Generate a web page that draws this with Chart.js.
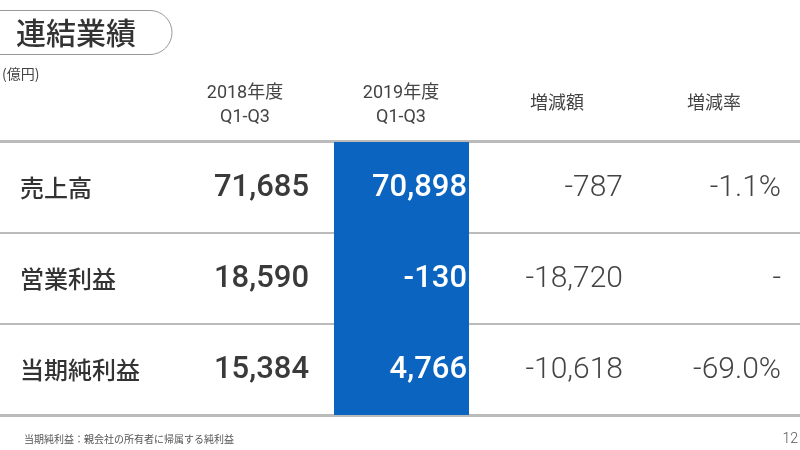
<!DOCTYPE html>
<html><head><meta charset="utf-8">
<script src="https://cdn.jsdelivr.net/npm/chart.js@4"></script>
<style>html,body{margin:0;padding:0;background:#fff}canvas{display:block}</style>
</head><body><canvas id="c" width="800" height="450"></canvas>
<script>
const rows = ["売上高","営業利益","当期純利益"];
const headers = [["2018年度","Q1-Q3"],["2019年度","Q1-Q3"],["増減額"],["増減率"]];
const col2018 = ["71,685","18,590","15,384"];
const col2019 = ["70,898","-130","4,766"];
const colDiff = ["-787","-18,720","-10,618"];
const colRate = ["-1.1%","-","-69.0%"];
const highlight = [[334,469],[334,469],[334,469]];

const JP = '"Noto Sans CJK JP", sans-serif';
const NUM = 'Roboto, "Noto Sans CJK JP", sans-serif';

const tablePlugin = {
  id:'table',
  beforeDatasetsDraw(chart){
    const ctx=chart.ctx, xs=chart.scales.x, ys=chart.scales.y, ca=chart.chartArea;
    ctx.save();
    // title box
    ctx.strokeStyle='#999'; ctx.lineWidth=1;
    ctx.beginPath(); ctx.moveTo(-2,10.5); ctx.lineTo(150,10.5);
    ctx.arc(150,32.5,22,-Math.PI/2,Math.PI/2); ctx.lineTo(-2,54.5); ctx.stroke();
    ctx.fillStyle='#333'; ctx.font='500 30px '+JP; ctx.textBaseline='middle'; ctx.textAlign='left';
    ctx.fillText('連結業績',16,33);
    ctx.font='14px '+JP; ctx.fillStyle='#444'; ctx.fillText('(億円)',2,74);
    // headers
    const hx=[xs.getPixelForValue(245),xs.getPixelForValue(401),xs.getPixelForValue(557),xs.getPixelForValue(714)];
    ctx.font='18px '+NUM; ctx.textAlign='center'; ctx.fillStyle='#444';
    headers.forEach((h,i)=>{
      if(h.length===2){ctx.fillText(h[0],hx[i],93);ctx.fillText(h[1],hx[i],117);}
      else ctx.fillText(h[0],hx[i],104);
    });
    // lines
    ctx.fillStyle='#bbb';
    ctx.fillRect(0,ca.top-2,800,3);
    const step=(ca.bottom-ca.top)/rows.length;
    for(let i=1;i<=rows.length;i++){
      const y=ca.top+step*i;
      ctx.fillRect(0,Math.round(y)-1,800,i===rows.length?3:2);
    }
    ctx.restore();
  },
  afterDatasetsDraw(chart){
    const ctx=chart.ctx, xs=chart.scales.x, ys=chart.scales.y;
    ctx.save(); ctx.textBaseline='middle';
    rows.forEach((r,i)=>{
      const y=ys.getPixelForValue(i);
      ctx.textAlign='left'; ctx.fillStyle='#333'; ctx.font='500 24px '+JP;
      ctx.fillText(r,20,y);
      ctx.textAlign='right';
      ctx.font='500 31px '+NUM; ctx.fillStyle='#3a3a3a';
      ctx.fillText(col2018[i],xs.getPixelForValue(309),y+1);
      ctx.fillStyle='#fff';
      ctx.fillText(col2019[i],xs.getPixelForValue(467),y+1);
      ctx.font='300 30px '+NUM; ctx.fillStyle='#444';
      ctx.fillText(colDiff[i],xs.getPixelForValue(623),y+1);
      ctx.fillText(colRate[i],xs.getPixelForValue(781),y+1);
    });
    ctx.textAlign='left'; ctx.font='10px '+JP; ctx.fillStyle='#555';
    ctx.fillText('当期純利益：親会社の所有者に帰属する純利益',24,439);
    ctx.textAlign='right'; ctx.font='300 14px '+NUM; ctx.fillStyle='#555';
    ctx.fillText('12',798,439);
    ctx.restore();
  }
};

new Chart(document.getElementById('c'),{
  type:'bar',
  data:{labels:rows,datasets:[{data:highlight,backgroundColor:'#0a64c0',borderWidth:0,
    categoryPercentage:1,barPercentage:1.003}]},
  options:{
    indexAxis:'y',responsive:false,animation:false,
    layout:{padding:{top:142,bottom:35,left:0,right:0}},
    plugins:{legend:{display:false},tooltip:{enabled:false}},
    scales:{x:{type:'linear',min:0,max:800,display:false},
            y:{type:'category',display:false,offset:true,grid:{display:false}}}
  },
  plugins:[tablePlugin]
});
</script></body></html>
